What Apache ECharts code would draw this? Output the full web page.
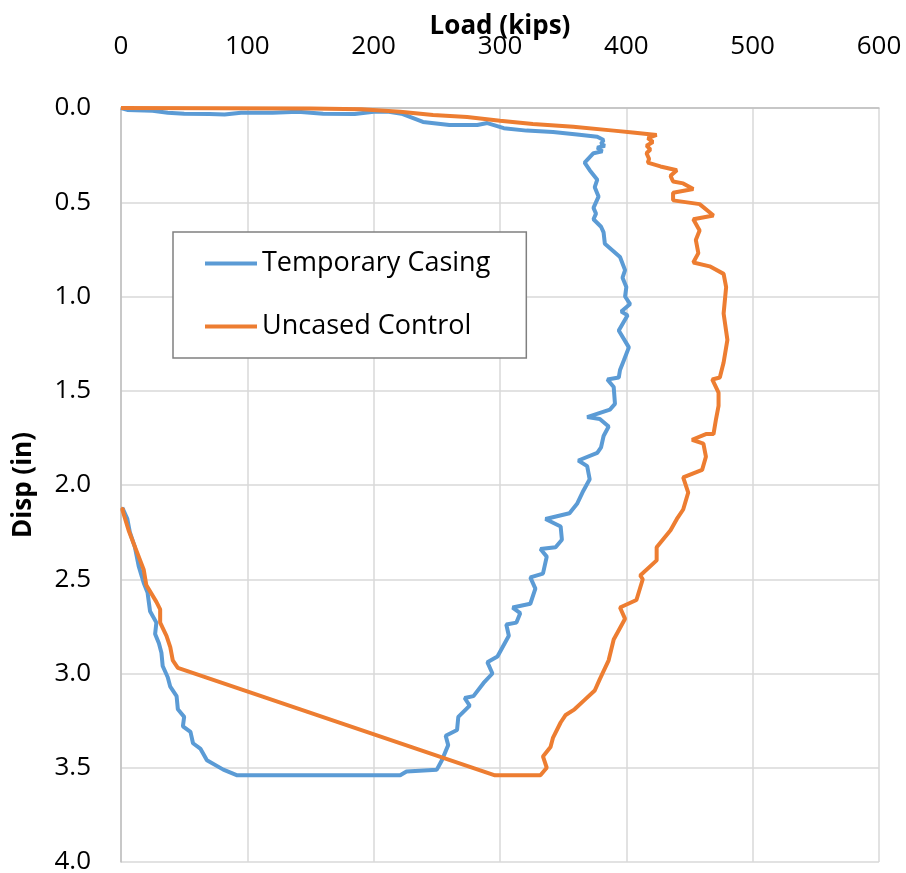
<!DOCTYPE html>
<html>
<head>
<meta charset="utf-8">
<script src="https://cdn.jsdelivr.net/npm/echarts@6/dist/echarts.min.js"></script>
<style>
  html, body { margin: 0; padding: 0; background: #fff; }
  #chart { width: 906px; height: 873px; }
</style>
</head>
<body>
<div id="chart"></div>
<script>
// Temporary Casing, load (kips) and displacement (in), in test order
const casingLoad = [0, 5, 25, 37, 50, 70, 82, 95, 120, 140, 160, 185, 200, 212, 222, 239, 260, 282, 290, 303, 321, 342, 361, 377, 382, 380, 383, 377, 381, 374, 367, 371, 377, 375, 378, 374, 376, 374, 380, 382, 383, 395, 399, 397, 400, 399, 403, 396, 401, 394, 402, 398, 395, 394, 385, 390, 391, 387, 369, 379, 386, 382, 380, 377, 362, 369, 371, 366, 361, 355, 336, 348, 349, 344, 332, 337, 334, 324, 328, 324, 310, 316, 313, 305, 307, 298, 290, 294, 287, 279, 272, 276, 267, 266, 257, 259, 254, 250, 226, 221, 142, 92, 81, 68, 63, 57, 55, 49, 50, 45, 44, 39, 37, 33, 32, 30, 27, 28, 23, 21, 18, 14, 11, 7, 5, 1]
const casingDisp = [0, 0.01, 0.015, 0.025, 0.03, 0.032, 0.035, 0.025, 0.025, 0.02, 0.03, 0.032, 0.02, 0.02, 0.03, 0.074, 0.09, 0.09, 0.08, 0.107, 0.12, 0.127, 0.14, 0.153, 0.17, 0.19, 0.20, 0.21, 0.23, 0.24, 0.29, 0.33, 0.38, 0.42, 0.47, 0.53, 0.56, 0.59, 0.63, 0.66, 0.72, 0.79, 0.86, 0.90, 0.95, 1.0, 1.04, 1.08, 1.10, 1.18, 1.27, 1.34, 1.39, 1.43, 1.44, 1.48, 1.57, 1.60, 1.64, 1.65, 1.69, 1.74, 1.80, 1.83, 1.87, 1.90, 1.97, 2.03, 2.10, 2.15, 2.18, 2.22, 2.29, 2.33, 2.34, 2.38, 2.47, 2.49, 2.55, 2.63, 2.65, 2.68, 2.73, 2.74, 2.80, 2.91, 2.94, 3.00, 3.05, 3.12, 3.13, 3.17, 3.23, 3.30, 3.33, 3.38, 3.46, 3.51, 3.52, 3.54, 3.54, 3.54, 3.51, 3.46, 3.40, 3.37, 3.31, 3.28, 3.23, 3.19, 3.12, 3.07, 3.02, 2.96, 2.89, 2.84, 2.79, 2.73, 2.67, 2.57, 2.52, 2.43, 2.33, 2.25, 2.18, 2.12]

// Uncased Control
const controlLoad = [0, 150, 190, 221, 247, 274, 300, 326, 358, 390, 405, 424, 417, 421, 416, 419, 416, 418, 417, 427, 440, 435, 437, 445, 453, 437, 437, 458, 469, 453, 458, 455, 457, 453, 466, 477, 479, 478, 477, 480, 477, 474, 468, 473, 473, 471, 469, 463, 452, 461, 463, 460, 445, 449, 445, 440, 435, 424, 424, 411, 413, 408, 395, 399, 390, 386, 379, 375, 367, 359, 352, 348, 342, 340, 334, 337, 332, 296, 45, 41, 39, 36, 31, 31, 28, 20, 18, 10, 6, 1, 2]
const controlDisp = [0, 0.003, 0.006, 0.02, 0.037, 0.048, 0.068, 0.085, 0.10, 0.12, 0.13, 0.143, 0.16, 0.18, 0.20, 0.22, 0.24, 0.27, 0.29, 0.31, 0.33, 0.36, 0.39, 0.40, 0.43, 0.45, 0.49, 0.51, 0.57, 0.59, 0.65, 0.70, 0.77, 0.82, 0.84, 0.88, 0.95, 1.02, 1.09, 1.23, 1.35, 1.43, 1.44, 1.51, 1.58, 1.65, 1.73, 1.73, 1.76, 1.78, 1.85, 1.92, 1.96, 2.04, 2.13, 2.18, 2.24, 2.33, 2.40, 2.48, 2.50, 2.61, 2.65, 2.71, 2.82, 2.93, 3.03, 3.09, 3.14, 3.19, 3.22, 3.26, 3.34, 3.39, 3.44, 3.50, 3.54, 3.54, 2.97, 2.93, 2.86, 2.80, 2.73, 2.66, 2.62, 2.53, 2.45, 2.31, 2.24, 2.13, 2.12]

const seriesNames = ['Temporary Casing', 'Uncased Control']

const font = 'Open Sans'

function pairs(xs, ys) {
  return xs.map((x, i) => [x, ys[i]])
}

const chart = echarts.init(document.getElementById('chart'))
chart.setOption({
  animation: false,
  textStyle: { fontFamily: font },
  grid: { left: 121, right: 27, top: 108, bottom: 11, outerBoundsMode: 'none' },
  legend: {
    data: seriesNames,
    orient: 'vertical',
    left: 173,
    top: 232,
    padding: [18, 36, 18, 32],
    itemGap: 36,
    itemWidth: 52,
    itemHeight: 4,
    icon: 'rect',
    borderColor: '#808080',
    borderWidth: 1.5,
    backgroundColor: '#fff',
    textStyle: { fontSize: 27, color: '#000', fontFamily: font }
  },
  xAxis: {
    type: 'value',
    position: 'top',
    min: 0,
    max: 600,
    interval: 100,
    name: 'Load (kips)',
    nameLocation: 'middle',
    nameGap: 68,
    nameMoveOverlap: false,
    nameTextStyle: { fontSize: 26, fontWeight: 'bold', color: '#000' },
    axisLine: { show: true, lineStyle: { color: '#bfbfbf', width: 1.5 } },
    axisTick: { show: false },
    axisLabel: { fontSize: 26, color: '#000', margin: 48 },
    splitLine: { lineStyle: { color: '#d9d9d9', width: 1.5 } }
  },
  yAxis: {
    type: 'value',
    inverse: true,
    min: 0,
    max: 4,
    interval: 0.5,
    name: 'Disp (in)',
    nameLocation: 'middle',
    nameGap: 84,
    nameMoveOverlap: false,
    nameTextStyle: { fontSize: 26, fontWeight: 'bold', color: '#000' },
    axisLine: { show: true, lineStyle: { color: '#bfbfbf', width: 1.5 } },
    axisTick: { show: false },
    axisLabel: { fontSize: 26, color: '#000', margin: 30, formatter: v => v.toFixed(1) },
    splitLine: { lineStyle: { color: '#d9d9d9', width: 1.5 } }
  },
  series: [
    {
      name: seriesNames[0],
      type: 'line',
      showSymbol: false,
      color: '#5b9bd5',
      lineStyle: { width: 4 },
      data: pairs(casingLoad, casingDisp)
    },
    {
      name: seriesNames[1],
      type: 'line',
      showSymbol: false,
      color: '#ed7d31',
      lineStyle: { width: 4 },
      data: pairs(controlLoad, controlDisp)
    }
  ]
})
</script>
</body>
</html>
